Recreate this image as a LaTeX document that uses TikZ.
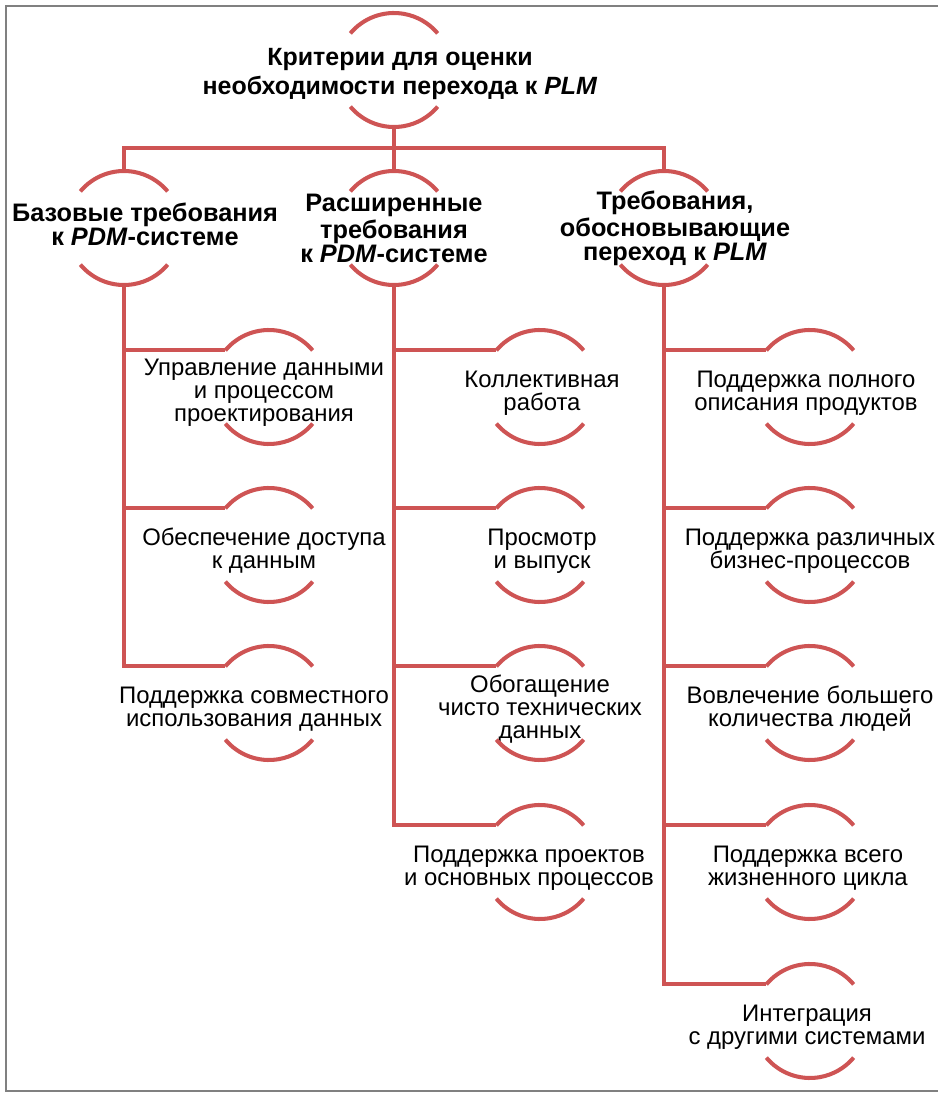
\documentclass[tikz,border=0pt]{standalone}
\usepackage{fontspec}
\setmainfont{Liberation Sans}
\definecolor{redline}{RGB}{206,84,84}
\tikzset{
  ring/.style={circle, minimum size=1.14cm, inner sep=0pt, outer sep=0pt},
  link/.style={draw=redline, line width=1.15pt},
  head/.style={font=\bfseries\fontsize{7.1}{8}\selectfont, align=center, xshift=0.06cm, yshift=-0.04cm},
  sub/.style={font=\bfseries\fontsize{7.2}{6.75}\selectfont, align=center},
  item/.style={font=\fontsize{6.8}{6.55}\selectfont, align=center, yshift=-0.06cm},
}

\begin{document}
\begin{tikzpicture}
  \useasboundingbox (0,0) rectangle (9.38,10.93);
  \draw[gray, line width=0.45pt] (9.5,10.87) -- (0.06,10.87) -- (0.06,0.02) -- (9.5,0.02);

  % root
  \node[ring, label={[head]center:{Критерии для оценки\\необходимости перехода к \textit{PLM}}}] (crit) at (3.94,10.23) {};

  % groups
  \node[ring, label={[sub, xshift=0.21cm, yshift=0.04cm]center:{Базовые требования\\к \textit{PDM}-системе}}] (base) at (1.24,8.65) {};
  \node[ring, label={[sub]center:{Расширенные\\требования\\к \textit{PDM}-системе}}] (ext) at (3.94,8.65) {};
  \node[ring, label={[sub, xshift=0.11cm]center:{Требования,\\обосновывающие\\переход к \textit{PLM}}}] (plm) at (6.64,8.65) {};

  % base items
  \node[ring, label={[item, xshift=-0.05cm]center:{Управление данными\\и процессом\\проектирования}}] (b1) at (2.69,7.06) {};
  \node[ring, label={[item, xshift=-0.05cm]center:{Обеспечение доступа\\к данным}}] (b2) at (2.69,5.48) {};
  \node[ring, label={[item, xshift=-0.15cm]center:{Поддержка совместного\\использования данных}}] (b3) at (2.69,3.90) {};

  % extended items
  \node[ring, label={[item, xshift=0.02cm]center:{Коллективная\\работа}}] (e1) at (5.40,7.06) {};
  \node[ring, label={[item, xshift=0.02cm]center:{Просмотр\\и выпуск}}] (e2) at (5.40,5.48) {};
  \node[ring, label={[item]center:{Обогащение\\чисто технических\\данных}}] (e3) at (5.40,3.90) {};
  \node[ring, label={[item, xshift=-0.11cm]center:{Поддержка проектов\\и основных процессов}}] (e4) at (5.40,2.31) {};

  % plm items
  \node[ring, label={[item, xshift=-0.04cm]center:{Поддержка полного\\описания продуктов}}] (p1) at (8.10,7.06) {};
  \node[ring, label={[item]center:{Поддержка различных\\бизнес-процессов}}] (p2) at (8.10,5.48) {};
  \node[ring, label={[item]center:{Вовлечение большего\\количества людей}}] (p3) at (8.10,3.90) {};
  \node[ring, label={[item, xshift=-0.02cm]center:{Поддержка всего\\жизненного цикла}}] (p4) at (8.10,2.31) {};
  \node[ring, label={[item, xshift=-0.03cm]center:{Интеграция\\с другими системами}}] (p5) at (8.10,0.72) {};

  % connectors
  \coordinate (bus) at (3.94,9.45);
  \draw[link] (crit.south) -- (ext.north);
  \draw[link] (base.north) |- (bus) -| (plm.north);
  \foreach \n in {b1,b2,b3} \draw[link] (base.south) |- (\n.140);
  \foreach \n in {e1,e2,e3,e4} \draw[link] (ext.south) |- (\n.140);
  \foreach \n in {p1,p2,p3,p4,p5} \draw[link] (plm.south) |- (\n.140);

  % broken rings
  \foreach \n in {crit,base,ext,plm,b1,b2,b3,e1,e2,e3,e4,p1,p2,p3,p4,p5} {
    \draw[link] (\n.140) arc (140:40:0.57);
    \draw[link] (\n.220) arc (220:320:0.57);
  }
\end{tikzpicture}
\end{document}
